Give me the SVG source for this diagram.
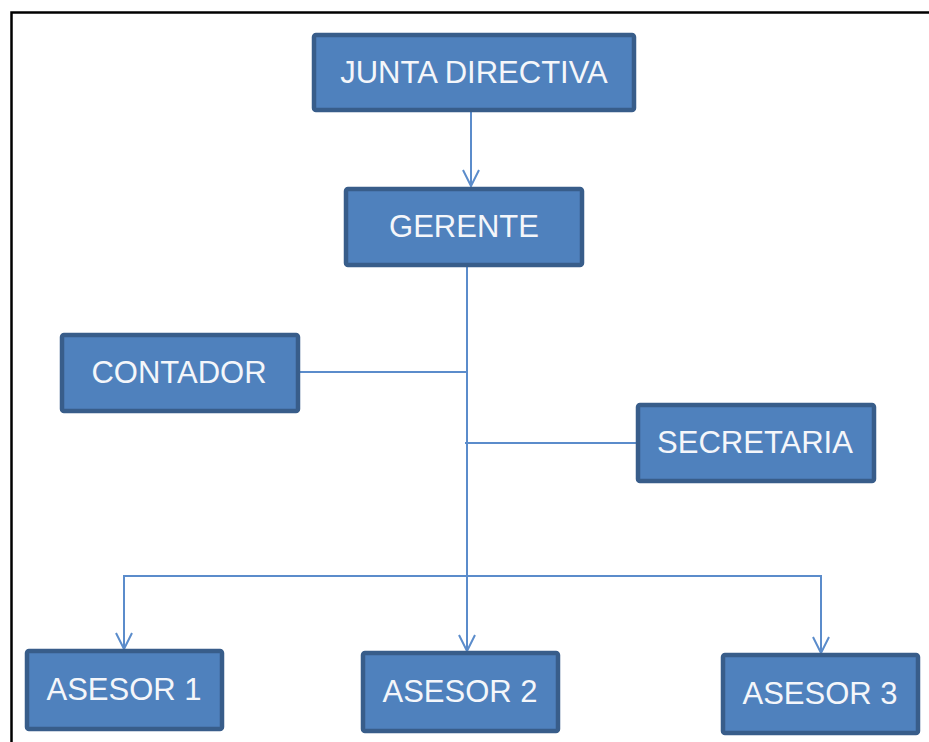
<svg xmlns="http://www.w3.org/2000/svg" width="929" height="742" viewBox="0 0 929 742">
<defs>
<style>
.box{fill:#4F81BD;stroke:#385D8A;stroke-width:4.5}
.lbl{font-family:"Liberation Sans",Arial,sans-serif;font-size:31px;fill:#F4F6FA;text-anchor:middle;dominant-baseline:central}
.conn{fill:none;stroke:#5B8CCB;stroke-width:2}
.frame{fill:none;stroke:#000;stroke-width:2.5}
</style>
<marker id="arr" markerWidth="22" markerHeight="18" viewBox="0 0 22 18" refX="19" refY="9" orient="auto" markerUnits="userSpaceOnUse">
<path d="M3,1 L19,9 L3,17" fill="none" stroke="#5B8CCB" stroke-width="2"/>
</marker>
</defs>
<rect width="929" height="742" fill="#fff"/>
<path class="frame" d="M11.5,742 V12.5 H929"/>
<g id="connectors">
<line class="conn" x1="471" y1="111" x2="471" y2="186" marker-end="url(#arr)"/>
<line class="conn" x1="467" y1="265" x2="467" y2="651" marker-end="url(#arr)"/>
<line class="conn" x1="298" y1="372" x2="467" y2="372"/>
<line class="conn" x1="465" y1="443" x2="637" y2="443"/>
<line class="conn" x1="124" y1="576" x2="822" y2="576"/>
<line class="conn" x1="124" y1="575" x2="124" y2="649" marker-end="url(#arr)"/>
<line class="conn" x1="821" y1="575" x2="821" y2="653" marker-end="url(#arr)"/>
</g>
<g id="junta">
<rect class="box" x="314" y="35" width="320" height="75" rx="2"/>
<text class="lbl" x="474" y="72">JUNTA DIRECTIVA</text>
</g>
<g id="gerente">
<rect class="box" x="346" y="189" width="236" height="76" rx="2"/>
<text class="lbl" x="464" y="226">GERENTE</text>
</g>
<g id="contador">
<rect class="box" x="62" y="335" width="236" height="76" rx="2"/>
<text class="lbl" x="179" y="372">CONTADOR</text>
</g>
<g id="secretaria">
<rect class="box" x="638" y="405" width="236" height="76" rx="2"/>
<text class="lbl" x="755" y="442">SECRETARIA</text>
</g>
<g id="asesor1">
<rect class="box" x="27" y="651" width="195" height="78" rx="2"/>
<text class="lbl" x="124" y="689">ASESOR 1</text>
</g>
<g id="asesor2">
<rect class="box" x="363" y="653" width="195" height="78" rx="2"/>
<text class="lbl" x="460" y="691">ASESOR 2</text>
</g>
<g id="asesor3">
<rect class="box" x="723" y="655" width="195" height="78" rx="2"/>
<text class="lbl" x="820" y="693">ASESOR 3</text>
</g>
</svg>
